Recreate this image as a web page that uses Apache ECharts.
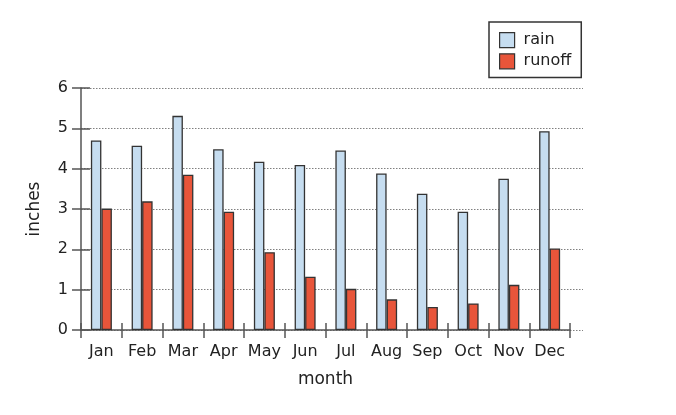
<!DOCTYPE html>
<html><head><meta charset="utf-8">
<script src="https://cdn.jsdelivr.net/npm/echarts@6/dist/echarts.min.js"></script>
<style>html,body{margin:0;padding:0;background:#fff}#c{width:676px;height:415px}</style>
</head><body><div id="c"></div>
<script>
const months = ['Jan','Feb','Mar','Apr','May','Jun','Jul','Aug','Sep','Oct','Nov','Dec'];
const rain = [4.70, 4.57, 5.31, 4.48, 4.17, 4.09, 4.45, 3.88, 3.38, 2.93, 3.75, 4.93];
const runoff = [3.01, 3.19, 3.85, 2.93, 1.93, 1.32, 1.02, 0.76, 0.57, 0.66, 1.12, 2.02];
const yTicks = [0, 1, 2, 3, 4, 5, 6];

const font = 'DejaVu Sans';
const axisCol = '#555';
const txt = '#222';
const yMin = yTicks[0], yMax = yTicks[yTicks.length - 1];
const chart = echarts.init(document.getElementById('c'));
chart.setOption({
  animation: false,
  textStyle: {fontFamily: font},
  grid: [
    {left: 81, right: 106, top: 88, bottom: 85},
    {left: 81, right: 93, top: 88, bottom: 85},
    {left: 81, right: 106, top: 88, bottom: 85}
  ],
  legend: {
    left: 489, top: 22, orient: 'vertical',
    borderColor: '#333', borderWidth: 1.5, padding: [10, 10, 8, 10],
    itemWidth: 15, itemHeight: 15, itemGap: 5,
    textStyle: {fontFamily: font, fontSize: 16, color: txt, padding: [0, 0, 0, 4]},
    data: [
      {name: 'rain', icon: 'rect', itemStyle: {color: '#c6ddf0', borderColor: '#333', borderWidth: 1.2}},
      {name: 'runoff', icon: 'rect', itemStyle: {color: '#e8553a', borderColor: '#333', borderWidth: 1.2}}
    ]
  },
  xAxis: [
    {type: 'category', data: months, gridIndex: 0, boundaryGap: true, offset: -7,
     name: 'month', nameLocation: 'middle', nameGap: 48,
     nameTextStyle: {fontFamily: font, fontSize: 17, color: txt},
     axisLine: {show: false, onZero: false},
     axisTick: {show: true, length: 15, lineStyle: {color: axisCol, width: 1.5}},
     axisLabel: {fontFamily: font, fontSize: 16, color: txt, margin: 21, interval: 0}},
    {type: 'category', data: months, gridIndex: 1, show: false},
    {type: 'category', data: months, gridIndex: 2, boundaryGap: true,
     axisLine: {show: true, onZero: false, lineStyle: {color: axisCol, width: 1.5}},
     axisLabel: {show: false}, axisTick: {show: false}}
  ],
  yAxis: [
    {type: 'value', gridIndex: 0, min: yMin, max: yMax, interval: 1, offset: -9,
     name: 'inches', nameLocation: 'middle', nameGap: 47, nameRotate: 90,
     nameTextStyle: {fontFamily: font, fontSize: 17, color: txt},
     axisLine: {show: false, onZero: false},
     axisTick: {show: true, length: 18, lineStyle: {color: axisCol, width: 1.5}},
     axisLabel: {fontFamily: font, fontSize: 16, color: txt, margin: 22},
     splitLine: {show: false}},
    {type: 'value', gridIndex: 1, min: yMin, max: yMax, interval: 1,
     axisLine: {show: false}, axisTick: {show: false}, axisLabel: {show: false},
     splitLine: {show: true, lineStyle: {color: '#808080', type: [1.5, 1.5], width: 1}}},
    {type: 'value', gridIndex: 2, min: yMin, max: yMax, interval: 1,
     axisLine: {show: true, onZero: false, lineStyle: {color: axisCol, width: 1.5}},
     axisLabel: {show: false}, axisTick: {show: false}, splitLine: {show: false}}
  ],
  series: [
    {name: 'rain', type: 'bar', xAxisIndex: 0, yAxisIndex: 0, data: rain, barWidth: 10.5, barGap: '0%', z: 5,
     itemStyle: {color: '#c6ddf0', borderColor: '#333', borderWidth: 1.3}},
    {name: 'runoff', type: 'bar', xAxisIndex: 0, yAxisIndex: 0, data: runoff, barWidth: 10.5, barGap: '0%', z: 5,
     itemStyle: {color: '#e8553a', borderColor: '#333', borderWidth: 1.3}}
  ]
});
</script></body></html>
